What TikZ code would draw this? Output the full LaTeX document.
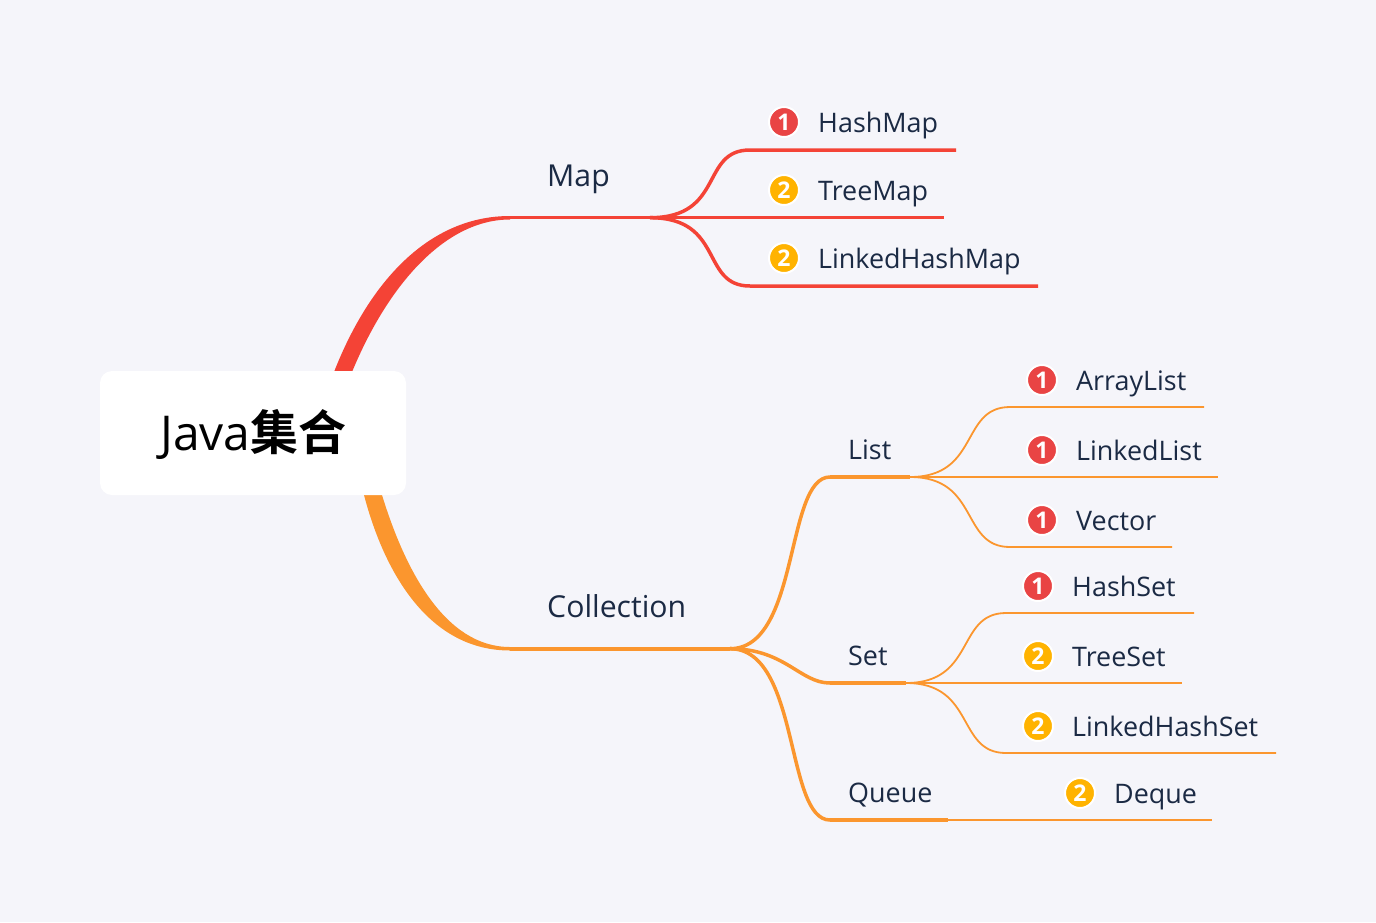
\documentclass[tikz,border=0pt]{standalone}
\usepackage{fontspec}
\setmainfont{Open Sans}
\newfontfamily\cjk{Noto Sans CJK SC}[BoldFont={* Bold}]
\usetikzlibrary{positioning}
\definecolor{pagebg}{HTML}{F5F5FA}
\definecolor{mapred}{HTML}{F44336}
\definecolor{colorange}{HTML}{FB962E}
\definecolor{inktext}{HTML}{1B2A44}
\definecolor{prioone}{HTML}{E94444}
\definecolor{priotwo}{HTML}{FFB300}
\tikzset{
  rootbox/.style={fill=white, rounded corners=12pt, minimum width=306pt, minimum height=124pt, inner sep=0pt},
  branchtext/.style={anchor=base west, inner sep=0pt, text=inktext, font=\fontsize{30.2}{34}\selectfont},
  subtext/.style={anchor=base west, inner sep=0pt, text=inktext, font=\fontsize{26.9}{30}\selectfont},
  leaftext/.style={anchor=base west, inner sep=0pt, text=inktext, font=\fontsize{26.9}{30}\selectfont},
  prio/.style={circle, draw=white, line width=2pt, minimum size=30pt, inner sep=0pt, text=white, font=\fontsize{23}{23}\selectfont\bfseries},
  prioa/.style={prio, fill=prioone},
  priob/.style={prio, fill=priotwo},
  redline/.style={draw=mapred, line width=3.5pt},
  orangemid/.style={draw=colorange, line width=3.5pt},
  orangebar/.style={draw=colorange, line width=4pt},
  orangethin/.style={draw=colorange, line width=1.8pt},
}
\begin{document}
\begin{tikzpicture}[x=1pt, y=-1pt]
    \useasboundingbox (0,0) rectangle (1376,922);
    \fill[pagebg] (0,0) rectangle (1376,922);

    % thick tapered roots, the root box covers their start
    \fill[mapred] (330,385) -- (334,372) .. controls (370,280) and (430,216) .. (510,216)
      -- (510,219.5) .. controls (445,219.5) and (388,285) .. (352,372) -- (347,385) -- cycle;
    \fill[colorange] (360,480) -- (364,495) .. controls (385,575) and (430,650.5) .. (510,650.5)
      -- (510,647) .. controls (445,647) and (405,570) .. (382,495) -- (378,480) -- cycle;

    \node[rootbox] (root) at (253,433) {};
    \node[anchor=base west, inner sep=0pt, font=\fontsize{48}{52}\selectfont] (title) at (160,450) {Java{\cjk\bfseries\fontsize{48}{52}\selectfont 集合}};

    \coordinate (mapA) at (510,217.7);
    \coordinate (mapB) at (650,217.7);
    \coordinate (colA) at (510,648.7);
    \coordinate (colB) at (730,648.7);

    % Map
    \node[branchtext] (map) at (547,186) {Map};
    \draw[redline] (mapA) -- (mapB);
    \coordinate (hashmapA) at (750,150);
    \coordinate (hashmapB) at (956,150);
    \coordinate (treemapB) at (944,217.7);
    \coordinate (linkedmapA) at (750,286);
    \coordinate (linkedmapB) at (1038,286);
    \draw[redline] (mapB) .. controls +(75,0) and +(-50,0) .. (hashmapA) -- (hashmapB);
    \draw[redline] (mapB) -- (treemapB);
    \draw[redline] (mapB) .. controls +(75,0) and +(-50,0) .. (linkedmapA) -- (linkedmapB);
    \node[prioa] (hashmapP) at (784,122) {1};
    \node[priob] (treemapP) at (784,190) {2};
    \node[priob] (linkedmapP) at (784,258) {2};
    \node[leaftext] (hashmap) at (818,132) {HashMap};
    \node[leaftext] (treemap) at (818,200) {TreeMap};
    \node[leaftext] (linkedmap) at (818,268) {LinkedHashMap};

    % Collection
    \node[branchtext] (collection) at (547,617) {Collection};
    \draw[orangebar] (colA) -- (colB);
    \coordinate (listA) at (830,477);
    \coordinate (listB) at (910,477);
    \coordinate (setA) at (830,683);
    \coordinate (setB) at (906,683);
    \coordinate (queueA) at (830,820);
    \coordinate (queueB) at (948,820);
    \draw[orangemid] (colB) .. controls +(70,0) and +(-45,0) .. (listA);
    \draw[orangemid] (colB) .. controls +(55,0) and +(-30,0) .. (setA);
    \draw[orangemid] (colB) .. controls +(70,0) and +(-45,0) .. (queueA);
    \draw[orangebar] (listA) -- (listB);
    \draw[orangebar] (setA) -- (setB);
    \draw[orangebar] (queueA) -- (queueB);
    \node[subtext] (list) at (848,459) {List};
    \node[subtext] (set) at (848,665) {Set};
    \node[subtext] (queue) at (848,802) {Queue};

    % List
    \coordinate (arrayA) at (1010,407);
    \coordinate (arrayB) at (1204,407);
    \coordinate (linkedB) at (1218,477);
    \coordinate (vectorA) at (1010,547);
    \coordinate (vectorB) at (1172,547);
    \draw[orangethin] (listB) .. controls +(70,0) and +(-50,0) .. (arrayA) -- (arrayB);
    \draw[orangethin] (listB) -- (linkedB);
    \draw[orangethin] (listB) .. controls +(70,0) and +(-50,0) .. (vectorA) -- (vectorB);
    \node[prioa] (arrayP) at (1042,380) {1};
    \node[prioa] (linkedP) at (1042,450) {1};
    \node[prioa] (vectorP) at (1042,520) {1};
    \node[leaftext] (array) at (1076,390) {ArrayList};
    \node[leaftext] (linked) at (1076,460) {LinkedList};
    \node[leaftext] (vector) at (1076,530) {Vector};

    % Set
    \coordinate (hashsetA) at (1006,613);
    \coordinate (hashsetB) at (1194,613);
    \coordinate (treesetB) at (1182,683);
    \coordinate (linksetA) at (1006,753);
    \coordinate (linksetB) at (1276,753);
    \draw[orangethin] (setB) .. controls +(70,0) and +(-50,0) .. (hashsetA) -- (hashsetB);
    \draw[orangethin] (setB) -- (treesetB);
    \draw[orangethin] (setB) .. controls +(70,0) and +(-50,0) .. (linksetA) -- (linksetB);
    \node[prioa] (hashsetP) at (1038,586) {1};
    \node[priob] (treesetP) at (1038,656) {2};
    \node[priob] (linksetP) at (1038,726) {2};
    \node[leaftext] (hashset) at (1072,596) {HashSet};
    \node[leaftext] (treeset) at (1072,666) {TreeSet};
    \node[leaftext] (linkset) at (1072,736) {LinkedHashSet};

    % Queue
    \coordinate (dequeB) at (1212,820);
    \draw[orangethin] (queueB) -- (dequeB);
    \node[priob] (dequeP) at (1080,793) {2};
    \node[leaftext] (deque) at (1114,803) {Deque};
\end{tikzpicture}
\end{document}
